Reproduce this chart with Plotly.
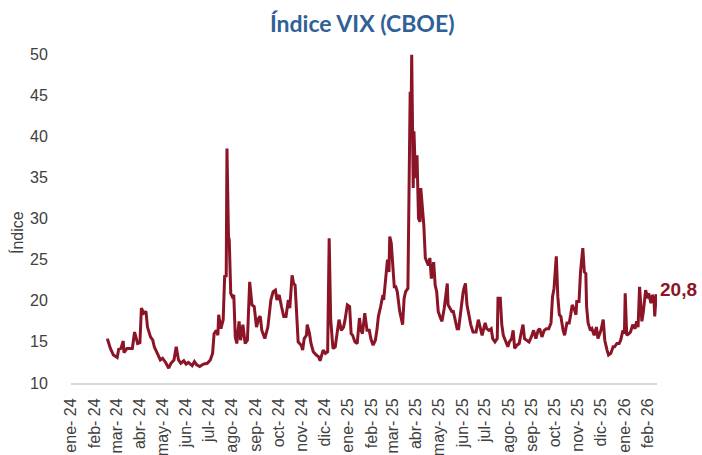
import pandas as pd
import plotly.graph_objects as go

# Días transcurridos desde 2024-01-01 y nivel del VIX
dias = [48, 52, 56, 61, 63, 66, 69, 70, 74, 81, 84, 86, 88, 91, 93, 96, 99, 101, 105, 108,
        110, 114, 118, 121, 125, 129, 132, 136, 139, 142, 145, 149, 152, 155, 160, 163, 166, 170, 175, 180,
        184, 187, 189, 192, 194, 195, 198, 201, 203, 205, 206, 208, 209, 211, 213, 215, 217, 219, 222, 224,
        227, 230, 233, 236, 239, 242, 245, 248, 250, 252, 254, 256, 260, 262, 264, 267, 270, 272, 275, 278,
        281, 284, 287, 289, 292, 294, 296, 298, 300, 304, 306, 308, 311, 312, 315, 317, 320, 324, 327, 329,
        331, 333, 336, 339, 341, 343, 346, 349, 352, 354, 357, 360, 362, 365, 368, 370, 372, 375, 378, 381,
        383, 385, 388, 390, 391, 394, 396, 399, 402, 404, 406, 409, 412, 413, 416, 418, 420, 421, 423, 425,
        427, 429, 431, 434, 436, 438, 440, 442, 445, 447, 448, 449, 450, 452, 453, 455, 457, 459, 461, 462,
        464, 466, 468, 470, 472, 474, 476, 479, 481, 483, 485, 488, 490, 493, 495, 497, 498, 501, 503, 505,
        507, 510, 512, 515, 518, 519, 521, 523, 526, 528, 531, 535, 538, 541, 543, 547, 549, 552, 555, 557,
        560, 563, 564, 567, 569, 571, 574, 577, 579, 582, 584, 586, 589, 592, 594, 597, 599, 602, 605, 608,
        611, 614, 617, 619, 622, 625, 628, 631, 634, 636, 638, 641, 643, 645, 647, 650, 652, 655, 658, 660,
        662, 665, 667, 668, 671, 673, 676, 678, 680, 681, 683, 686, 688, 691, 694, 696, 700, 703, 705, 708,
        710, 713, 716, 718, 721, 724, 726, 729, 731, 732, 734, 737, 739, 742, 745, 747, 749, 751, 754, 756,
        759, 762, 763, 766, 768, 770, 771, 773]

vix = [15.4, 14.2, 13.4, 13.1, 14.1, 14.2, 15.1, 13.7, 14.2, 14.2, 16.2, 15.6, 14.8, 14.9, 19.1, 18.5, 18.7, 16.8, 15.6, 15.2,
       14.4, 13.6, 12.8, 13.0, 12.5, 11.8, 12.4, 12.8, 14.4, 12.8, 12.4, 12.7, 12.3, 12.5, 12.1, 12.6, 12.2, 12.0, 12.3, 12.4,
       12.8, 13.6, 16.0, 16.4, 15.8, 18.3, 16.6, 17.7, 23.1, 22.9, 38.5, 27.8, 27.4, 20.9, 20.5, 20.7, 15.6, 14.8, 17.5, 15.2,
       17.1, 14.8, 15.2, 22.3, 19.5, 19.3, 16.8, 17.9, 18.1, 16.4, 16.0, 15.4, 16.8, 18.5, 20.1, 21.1, 21.3, 20.1, 20.7, 19.3,
       18.1, 18.1, 20.1, 19.1, 23.1, 22.1, 21.9, 18.5, 15.0, 14.6, 14.0, 15.4, 15.8, 17.1, 16.0, 14.8, 13.8, 13.4, 13.2, 12.7,
       13.4, 14.0, 13.6, 13.8, 27.6, 17.7, 14.2, 14.4, 16.4, 17.7, 16.4, 16.8, 17.7, 19.5, 19.3, 16.0, 15.8, 15.0, 14.8, 17.9,
       16.4, 16.0, 18.5, 16.8, 16.4, 16.4, 15.4, 14.6, 15.2, 16.4, 18.1, 19.3, 20.7, 20.1, 23.3, 25.0, 23.5, 27.8, 27.0, 24.7,
       21.7, 21.7, 21.1, 18.8, 17.9, 17.1, 20.3, 21.1, 21.5, 45.0, 45.4, 40.2, 49.9, 33.7, 40.6, 34.9, 37.7, 30.0, 29.6, 33.7,
       31.6, 29.2, 25.2, 24.7, 24.3, 25.2, 22.7, 24.7, 21.9, 21.1, 18.7, 17.9, 17.5, 19.1, 20.7, 22.1, 19.5, 19.1, 18.7, 18.7,
       17.9, 16.6, 16.6, 19.1, 21.1, 21.5, 22.1, 19.5, 17.9, 17.1, 16.2, 16.2, 17.7, 16.6, 15.8, 17.3, 16.6, 16.4, 16.6, 15.4,
       15.0, 15.4, 20.3, 20.3, 17.1, 15.8, 15.0, 14.4, 15.0, 15.4, 16.4, 14.2, 14.6, 14.8, 15.8, 17.1, 15.4, 15.2, 15.0, 15.6,
       16.4, 15.4, 16.4, 16.6, 15.6, 16.4, 16.6, 16.6, 17.3, 20.5, 21.5, 25.4, 20.5, 18.3, 18.1, 16.4, 15.8, 17.3, 17.3, 18.3,
       19.5, 18.9, 18.3, 19.9, 19.9, 23.5, 26.4, 23.5, 23.3, 19.3, 17.3, 16.4, 16.6, 15.8, 16.8, 15.4, 16.4, 17.7, 15.2, 14.0,
       13.4, 13.6, 14.4, 14.4, 14.8, 14.8, 15.2, 16.4, 16.0, 20.9, 15.8, 16.0, 16.2, 17.1, 16.6, 17.5, 16.8, 21.7, 17.5, 18.7,
       21.3, 20.3, 20.9, 19.7, 20.7, 20.3, 18.1, 20.8]

meses = ["ene", "feb", "mar", "abr", "may", "jun", "jul", "ago", "sep", "oct", "nov", "dic"]
y_ticks = [10, 15, 20, 25, 30, 35, 40, 45, 50]
ultimo_texto = "20,8"

assert len(dias) == len(vix)

inicio = pd.Timestamp("2024-01-01")
fechas = inicio + pd.to_timedelta(dias, unit="D")

tick_fechas = pd.date_range("2024-01-01", "2026-02-01", freq="MS")
tick_textos = [f"{meses[d.month - 1]}- {str(d.year)[2:]}" for d in tick_fechas]

rojo = "#8B1426"
gris_txt = "#404040"

fig = go.Figure()
fig.add_trace(go.Scatter(
    x=fechas, y=vix, mode="lines",
    line=dict(color=rojo, width=3),
    hoverinfo="skip", showlegend=False,
))

fig.add_annotation(
    x=1, y=vix[-1], xref="paper", yref="y",
    text=f"<b>{ultimo_texto}</b>", showarrow=False,
    xanchor="left", yanchor="middle", xshift=2, yshift=5,
    borderpad=0,
    font=dict(family="Liberation Sans", size=19, color=rojo),
)

fig.add_annotation(
    x=0, y=0.456, xref="paper", yref="paper", xshift=-54,
    text="Índice", textangle=-90, showarrow=False,
    xanchor="center", yanchor="middle",
    font=dict(family="Liberation Sans", size=16, color=gris_txt),
)

fig.update_layout(
    width=702, height=455,
    margin=dict(l=71, r=45, t=54, b=72, autoexpand=False),
    paper_bgcolor="white", plot_bgcolor="white",
    title=dict(
        text="<b>Índice VIX (CBOE)</b>",
        x=0.516, xref="container", xanchor="center",
        y=1 - 24 / 455, yref="container", yanchor="middle",
        font=dict(family="Lato", size=23, color="#2F6196"),
    ),
    xaxis=dict(
        type="date", automargin=False,
        range=[inicio, inicio + pd.Timedelta(days=774)],
        tickmode="array", tickvals=tick_fechas, ticktext=tick_textos,
        tickangle=-90,
        tickfont=dict(family="Liberation Sans", size=16, color=gris_txt),
        showgrid=False, zeroline=False,
        showline=True, linecolor="#D9D9D9", linewidth=2,
        ticks="outside", ticklen=7, tickcolor="rgba(0,0,0,0)",
    ),
    yaxis=dict(
        range=[10, 50], automargin=False,
        tickmode="array", tickvals=y_ticks,
        tickfont=dict(family="Liberation Sans", size=16, color=gris_txt),
        showgrid=False, zeroline=False, showline=False,
        ticks="outside", ticklen=19, tickcolor="rgba(0,0,0,0)",
    ),
)

fig.write_html(
    "out.html",
    config={"displayModeBar": False},
    post_script="document.body.style.margin='0';document.body.style.overflow='hidden';",
)
